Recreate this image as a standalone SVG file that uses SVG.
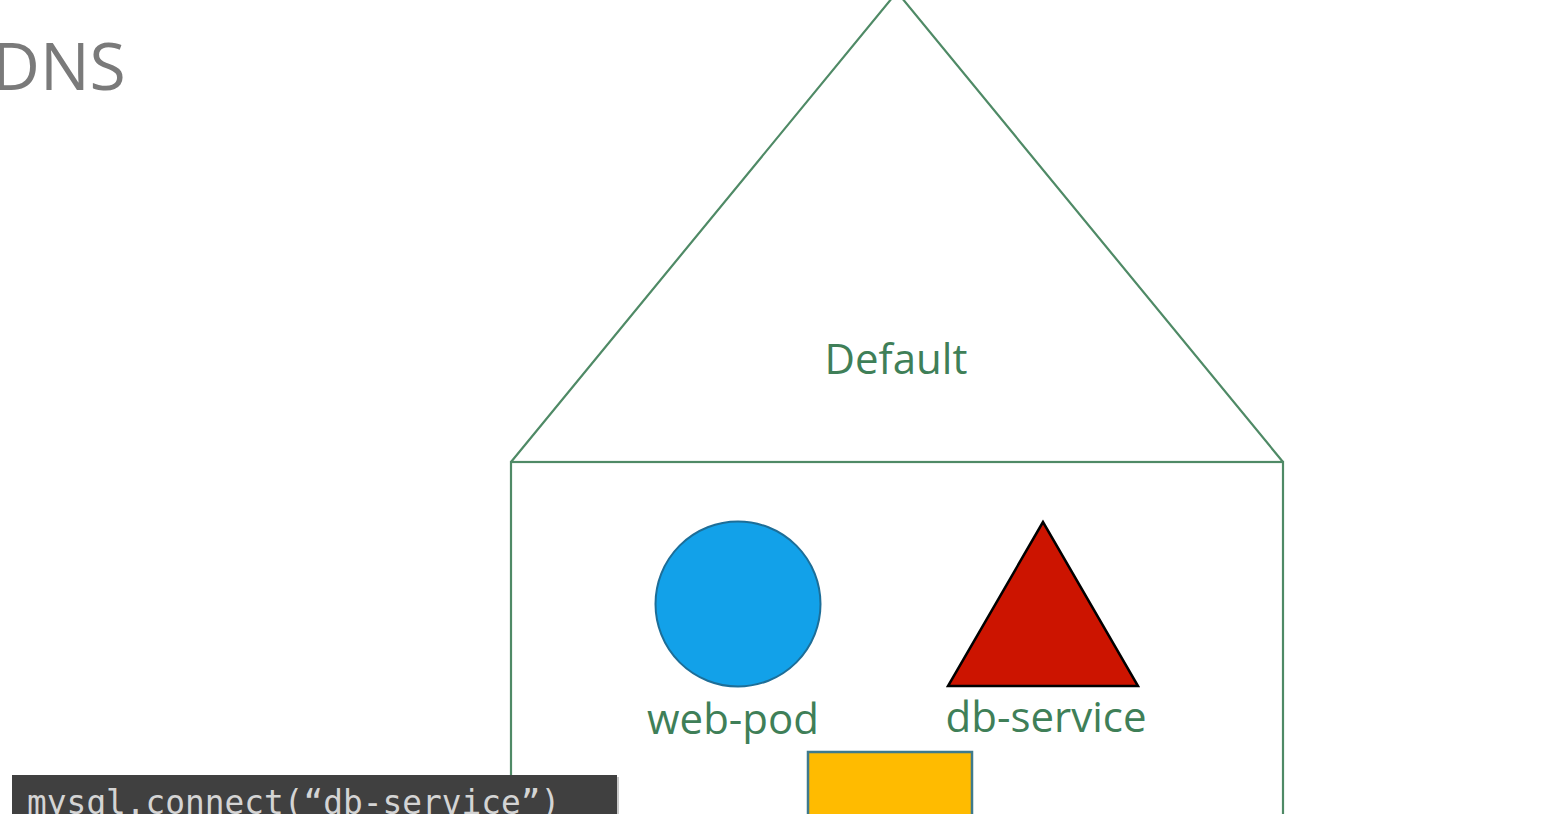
<svg xmlns="http://www.w3.org/2000/svg" width="1566" height="814" viewBox="0 0 1566 814">
<style>
.house{fill:none;stroke:#4f8a66;stroke-width:2.2}
.lbl{font-family:"Open Sans","Noto Sans",sans-serif;fill:#3f7f58;font-size:42px;text-anchor:middle}
.title{font-family:"Open Sans","Noto Sans",sans-serif;fill:#7a7a7a;font-size:66px}
.code{font-family:"DejaVu Sans Mono","Liberation Mono",monospace;fill:#d4d4d4;font-size:32.8px}
</style>
<rect width="1566" height="814" fill="#ffffff"/>
<text class="title" x="-8" y="90">DNS</text>
<g id="default-namespace">
<polyline class="house" points="511,462 897,-8 1283,462"/>
<rect class="house" x="511" y="462" width="772" height="400"/>
<text class="lbl" x="896" y="374">Default</text>
</g>
<g id="web-pod">
<circle cx="738" cy="604" r="82.5" fill="#12a1e9" stroke="#1d6e98" stroke-width="2"/>
<text class="lbl" x="733" y="734">web-pod</text>
</g>
<g id="db-service">
<polygon points="1043,522 948,686 1138,686" fill="#cc1400" stroke="#000" stroke-width="2.5" stroke-linejoin="miter"/>
<text class="lbl" x="1046" y="732">db-service</text>
</g>
<g id="db-pod">
<rect x="808" y="752" width="164" height="100" fill="#ffbb00" stroke="#3f7a8c" stroke-width="2.5"/>
</g>
<g id="connectors"></g>
<g id="code-box">
<rect x="14" y="777" width="605" height="60" fill="#262626" opacity="0.25"/>
<rect x="12" y="775" width="605" height="60" fill="#404040"/>
<text class="code" x="27" y="814">mysql.connect(“db-service”)</text>
</g>
</svg>
